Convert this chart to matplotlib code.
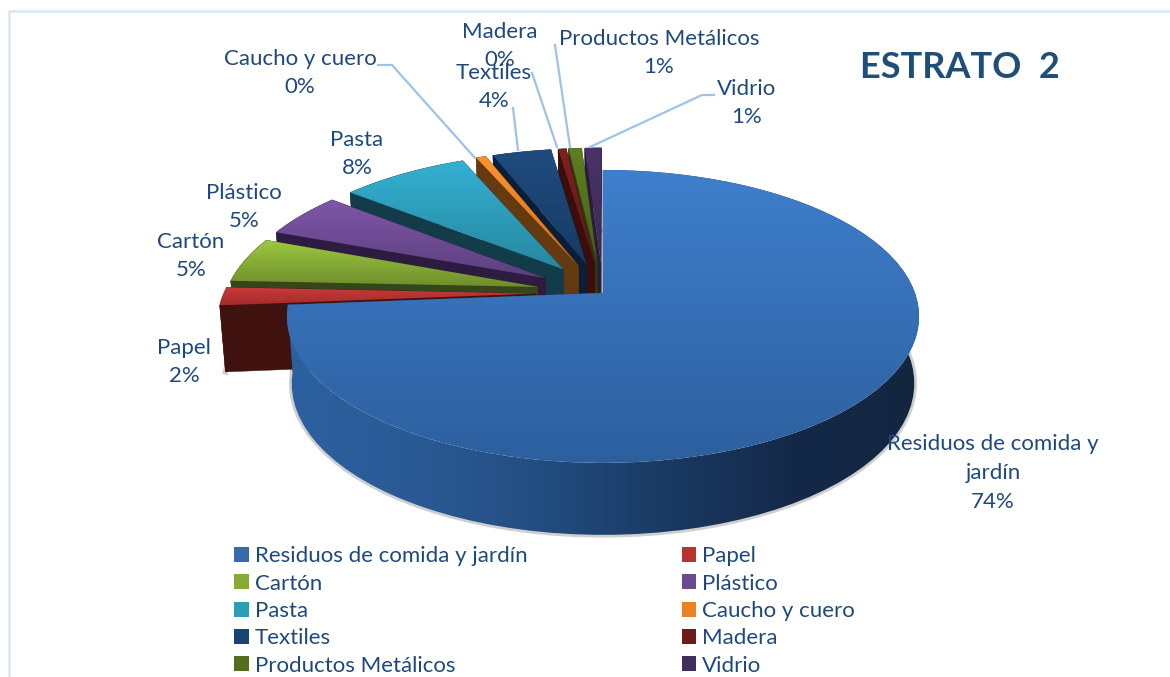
import numpy as np
import matplotlib
matplotlib.use("Agg")
import matplotlib.pyplot as plt
from matplotlib.colors import LinearSegmentedColormap
from matplotlib.patches import Patch, Polygon
from matplotlib.transforms import Transform

plt.rcParams['font.family'] = ['Lato', 'DejaVu Sans']

categories = ["Residuos de comida y jardín", "Papel", "Cartón", "Plástico", "Pasta",
              "Caucho y cuero", "Textiles", "Madera", "Productos Metálicos", "Vidrio"]
values = [73.7, 2.0, 5.0, 5.0, 7.8, 0.6, 3.6, 0.5, 0.8, 1.0]
pct_labels = ["74%", "2%", "5%", "5%", "8%", "0%", "4%", "0%", "1%", "1%"]
explode = [0, 0.215, 0.215, 0.215, 0.215, 0.215, 0.215, 0.215, 0.215, 0.215]

top_light = ["#3f7fcc", "#cc3b3b", "#9cc83f", "#7f56a8", "#33b1d3", "#ff942b", "#1f4c80", "#7f2020", "#607e22", "#4b3369"]
top_dark = ["#2d5f9e", "#a52b2b", "#6f8d2d", "#5c407e", "#27879f", "#d2701c", "#173a64", "#601616", "#485f18", "#3a284f"]
swatch = ["#3669ad", "#b83232", "#85aa36", "#6c4a92", "#2d9cb9", "#e88224", "#1b4372", "#6f1b1b", "#546e1d", "#422e5c"]
wall_col = ["#234d80", "#3f1210", "#35461a", "#2d1b40", "#133c4a", "#663a10", "#0b1e38", "#3b0d0d", "#2b3a0e", "#2a1a3d"]

label_xy = [(993, 473), (184, 362), (191, 256), (244, 207), (357, 154),
            (300, 73), (494, 87), (500, 46), (659, 53), (747, 103)]
label_text = ["Residuos de comida y\njardín", "Papel", "Cartón", "Plástico", "Pasta",
              "Caucho y cuero", "Textiles", "Madera", "Productos Metálicos", "Vidrio"]
leaders = [[(378, 65), (392, 65), (475, 158)],
           [(513, 108), (518, 150)],
           [(532, 73), (557, 147)],
           [(555, 45), (570, 147)],
           [(714, 95), (702, 95), (590, 147)]]

TEXT = "#1f497d"
FS = 16
CX, CY = 603, 293
AX, BY, K = 312, 142.7, 0.16


class Persp(Transform):
    input_dims = output_dims = 2

    def transform_non_affine(self, xy):
        xy = np.asarray(xy, dtype=float)
        w = 1 + K * xy[:, 1]
        return np.column_stack([CX + AX * xy[:, 0] / w, CY - BY * xy[:, 1] / w])


persp = Persp()

fig = plt.figure(figsize=(11.7, 6.77), dpi=100)
ax = fig.add_axes([0, 0, 1, 1])
wedges, _ = ax.pie(values, explode=explode, startangle=90, counterclock=False, radius=1)


def fill_grad(patch, c1, c2, horizontal=False, stops=None, z=1):
    verts = patch.get_transform().transform_path(patch.get_path()).vertices
    # back to pixel coords of the axes
    verts = ax.transData.inverted().transform(verts)
    x0, x1, y0, y1 = verts[:, 0].min(), verts[:, 0].max(), verts[:, 1].min(), verts[:, 1].max()
    cols = stops if stops else [c1, c2]
    cm = LinearSegmentedColormap.from_list("g", cols)
    g = np.linspace(0, 1, 128)
    g = g[None, :] if horizontal else g[:, None]
    im = ax.imshow(g, cmap=cm, extent=(x0, x1, y1, y0), aspect="auto", zorder=z, interpolation="bilinear")
    im.set_clip_path(patch)


def wall(p_top, z, color, stops=None, shadow=False):
    d = 66 - 6 * p_top[1]
    top = persp.transform(p_top[0])
    low = top.copy()
    low[:, 0] = CX + (top[:, 0] - CX) * 0.985
    low[:, 1] = top[:, 1] + d
    pts = np.vstack([top, low[::-1]])
    if shadow:
        # soft edge under the lower rim only
        ax.plot(low[:, 0], low[:, 1], color="#777777", alpha=0.35, lw=4, zorder=1)
    poly = Polygon(pts, closed=True, facecolor=color if not stops else "none",
                   edgecolor=color if not stops else "none", linewidth=0.3, zorder=z)
    ax.add_patch(poly)
    if stops:
        fill_grad(poly, None, None, horizontal=True, stops=stops, z=z)


order = list(range(len(wedges) - 1, 0, -1)) + [0]
for n, i in enumerate(order):
    w = wedges[i]
    z = 2 + n * 3
    cx0, cy0 = w.center
    th = np.radians(np.linspace(w.theta1, w.theta2, 80))
    arc = np.column_stack([cx0 + np.cos(th), cy0 + np.sin(th)])
    apex = np.array([[cx0, cy0]])
    # radial faces, then rim
    for edge in (arc[0], arc[-1]):
        seg = np.linspace(apex[0], edge, 12)
        wall((seg, seg[:, 1]), z, wall_col[i])
    if i == 0:
        wall((arc, arc[:, 1]), z + 1, None,
             stops=["#2c609f", "#2a5a95", "#234d80", "#1a3a62", "#14294a", "#13263f"], shadow=True)
    else:
        wall((arc, arc[:, 1]), z + 1, wall_col[i], shadow=i == 1)
    w.set_transform(persp + ax.transData)
    w.set_facecolor("none")
    w.set_edgecolor("none")
    w.set_zorder(z + 2)
    fill_grad(w, top_light[i], top_dark[i], z=z + 2)

for i, (x, y) in enumerate(label_xy):
    ax.text(x, y, label_text[i] + "\n" + pct_labels[i], ha="center", va="center",
            fontsize=FS, color=TEXT, linespacing=1.55, zorder=60)
for pts in leaders:
    pts = np.array(pts)
    ax.plot(pts[:, 0], pts[:, 1], color="#9dc3e6", lw=1.6, zorder=50)

ax.text(960, 68, "ESTRATO  2", ha="center", va="center", fontsize=26, fontweight="bold",
        color="#1f4e79", zorder=60)

# frame of the picture
ax.plot([9, 9, 1170], [677, 11, 11], color="#dbe6f5", lw=1.8, zorder=0)

# legend filled column by column, reads row by row
idx = list(range(0, 10, 2)) + list(range(1, 10, 2))
handles = [Patch(facecolor=swatch[i], edgecolor="none", label=categories[i]) for i in idx]
ax.legend(handles=handles, ncol=2, frameon=False, fontsize=FS, loc="upper left",
          bbox_to_anchor=(230 / 1170, 1 - 542 / 677), handlelength=0.65, handleheight=0.65,
          handletextpad=0.27, labelspacing=0.327, columnspacing=6.95, labelcolor=TEXT, borderpad=0.2,
          borderaxespad=0)

ax.set_xlim(0, 1170)
ax.set_ylim(677, 0)
ax.set_aspect("auto")
ax.axis("off")
fig.savefig("out.png", dpi=100)
